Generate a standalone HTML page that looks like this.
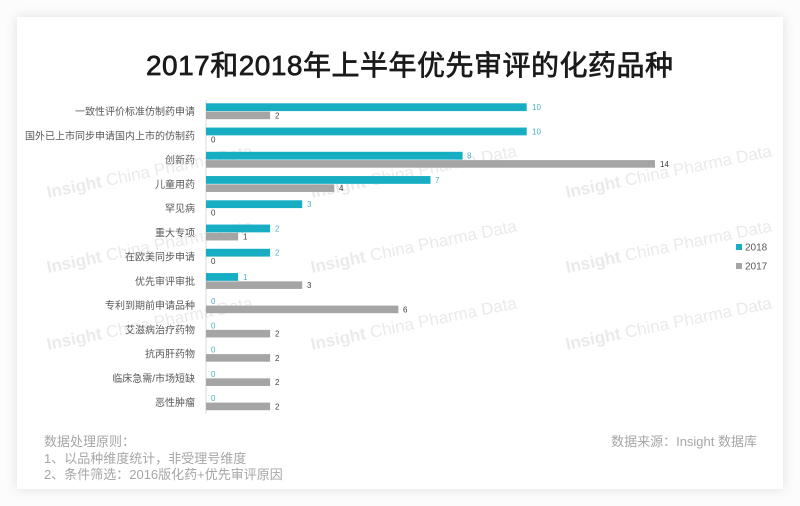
<!DOCTYPE html>
<html>
<head>
<meta charset="utf-8">
<style>
  html, body { margin:0; padding:0; }
  body { width:800px; height:506px; background:#fcfcfc; overflow:hidden; position:relative;
         font-family:"Liberation Sans","Noto Sans CJK SC",sans-serif; }
  .card { position:absolute; left:17px; top:17px; width:766px; height:472px; background:#fff;
          box-shadow:0 0 12px rgba(0,0,0,0.12); }
  svg { position:absolute; left:0; top:0; }
</style>
</head>
<body>
<div class="card"></div>
<svg width="800" height="506" viewBox="0 0 800 506" xmlns="http://www.w3.org/2000/svg"
     font-family="'Liberation Sans','Noto Sans CJK SC',sans-serif">
  <!-- watermarks -->
  <g fill="#eaeaea" font-size="17">
    <text transform="translate(48,198) rotate(-11.5)"><tspan font-weight="bold">Insight</tspan> China Pharma Data</text>
    <text transform="translate(312,198) rotate(-11.5)"><tspan font-weight="bold">Insight</tspan> China Pharma Data</text>
    <text transform="translate(567,198) rotate(-11.5)"><tspan font-weight="bold">Insight</tspan> China Pharma Data</text>
    <text transform="translate(48,273) rotate(-11.5)"><tspan font-weight="bold">Insight</tspan> China Pharma Data</text>
    <text transform="translate(312,273) rotate(-11.5)"><tspan font-weight="bold">Insight</tspan> China Pharma Data</text>
    <text transform="translate(567,273) rotate(-11.5)"><tspan font-weight="bold">Insight</tspan> China Pharma Data</text>
    <text transform="translate(48,350) rotate(-11.5)"><tspan font-weight="bold">Insight</tspan> China Pharma Data</text>
    <text transform="translate(312,350) rotate(-11.5)"><tspan font-weight="bold">Insight</tspan> China Pharma Data</text>
    <text transform="translate(567,350) rotate(-11.5)"><tspan font-weight="bold">Insight</tspan> China Pharma Data</text>
  </g>

  <!-- title -->
  <text x="146" y="75" font-size="28" font-weight="normal" fill="#1a1a1a" stroke="#1a1a1a" stroke-width="0.7" textLength="527" lengthAdjust="spacing">2017和2018年上半年优先审评的化药品种</text>

  <!-- axis -->
  <line x1="206" y1="100" x2="206" y2="414" stroke="#d9d9d9" stroke-width="1"/>

  <!-- category labels -->
  <g font-size="10" fill="#595959" text-anchor="end">
    <text x="195" y="115">一致性评价标准仿制药申请</text>
    <text x="195" y="139.3">国外已上市同步申请国内上市的仿制药</text>
    <text x="195" y="163.5">创新药</text>
    <text x="195" y="187.8">儿童用药</text>
    <text x="195" y="212">罕见病</text>
    <text x="195" y="236.3">重大专项</text>
    <text x="195" y="260.5">在欧美同步申请</text>
    <text x="195" y="284.8">优先审评审批</text>
    <text x="195" y="309">专利到期前申请品种</text>
    <text x="195" y="333.3">艾滋病治疗药物</text>
    <text x="195" y="357.5">抗丙肝药物</text>
    <text x="195" y="381.8">临床急需/市场短缺</text>
    <text x="195" y="406">恶性肿瘤</text>
  </g>

  <!-- bars: 2018 teal, 2017 gray -->
  <g fill="#17aec4">
    <rect x="206" y="103.3" width="320.7" height="7.8"/>
    <rect x="206" y="127.55" width="320.7" height="7.8"/>
    <rect x="206" y="151.8" width="256.6" height="7.8"/>
    <rect x="206" y="176.05" width="224.5" height="7.8"/>
    <rect x="206" y="200.3" width="96.2" height="7.8"/>
    <rect x="206" y="224.55" width="64.1" height="7.8"/>
    <rect x="206" y="248.8" width="64.1" height="7.8"/>
    <rect x="206" y="273.05" width="32.1" height="7.8"/>
  </g>
  <g fill="#a5a5a5">
    <rect x="206" y="111.6" width="64.1" height="7.6"/>
    <rect x="206" y="160.1" width="449" height="7.6"/>
    <rect x="206" y="184.35" width="128.3" height="7.6"/>
    <rect x="206" y="232.85" width="32.1" height="7.6"/>
    <rect x="206" y="281.35" width="96.2" height="7.6"/>
    <rect x="206" y="305.6" width="192.4" height="7.6"/>
    <rect x="206" y="329.85" width="64.1" height="7.6"/>
    <rect x="206" y="354.1" width="64.1" height="7.6"/>
    <rect x="206" y="378.35" width="64.1" height="7.6"/>
    <rect x="206" y="402.6" width="64.1" height="7.6"/>
  </g>

  <!-- 2018 value labels -->
  <g font-size="8" fill="#4aaebc">
    <text x="532" y="110">10</text>
    <text x="532" y="134.3">10</text>
    <text x="467" y="158.5">8</text>
    <text x="435" y="182.8">7</text>
    <text x="307" y="207">3</text>
    <text x="275" y="231.3">2</text>
    <text x="275" y="255.5">2</text>
    <text x="243" y="279.8">1</text>
    <text x="211" y="304">0</text>
    <text x="211" y="328.3">0</text>
    <text x="211" y="352.5">0</text>
    <text x="211" y="376.8">0</text>
    <text x="211" y="401">0</text>
  </g>
  <!-- 2017 value labels -->
  <g font-size="8" fill="#404040">
    <text x="275" y="118.3">2</text>
    <text x="211" y="142.5">0</text>
    <text x="660" y="166.8">14</text>
    <text x="339" y="191">4</text>
    <text x="211" y="215.3">0</text>
    <text x="243" y="239.5">1</text>
    <text x="211" y="263.8">0</text>
    <text x="307" y="288">3</text>
    <text x="403" y="312.3">6</text>
    <text x="275" y="336.5">2</text>
    <text x="275" y="360.8">2</text>
    <text x="275" y="385">2</text>
    <text x="275" y="409.3">2</text>
  </g>

  <!-- legend -->
  <rect x="736" y="244" width="6" height="6" fill="#17aec4"/>
  <text x="745" y="250.5" font-size="10" fill="#595959">2018</text>
  <rect x="736" y="263" width="6" height="6" fill="#a5a5a5"/>
  <text x="745" y="269.5" font-size="10" fill="#595959">2017</text>

  <!-- footnotes -->
  <g font-size="13" fill="#a6a6a6">
    <text x="44" y="446">数据处理原则：</text>
    <text x="44" y="463">1、以品种维度统计，非受理号维度</text>
    <text x="44" y="479">2、条件筛选：2016版化药+优先审评原因</text>
    <text x="757" y="446" text-anchor="end">数据来源：Insight 数据库</text>
  </g>
</svg>
</body>
</html>
